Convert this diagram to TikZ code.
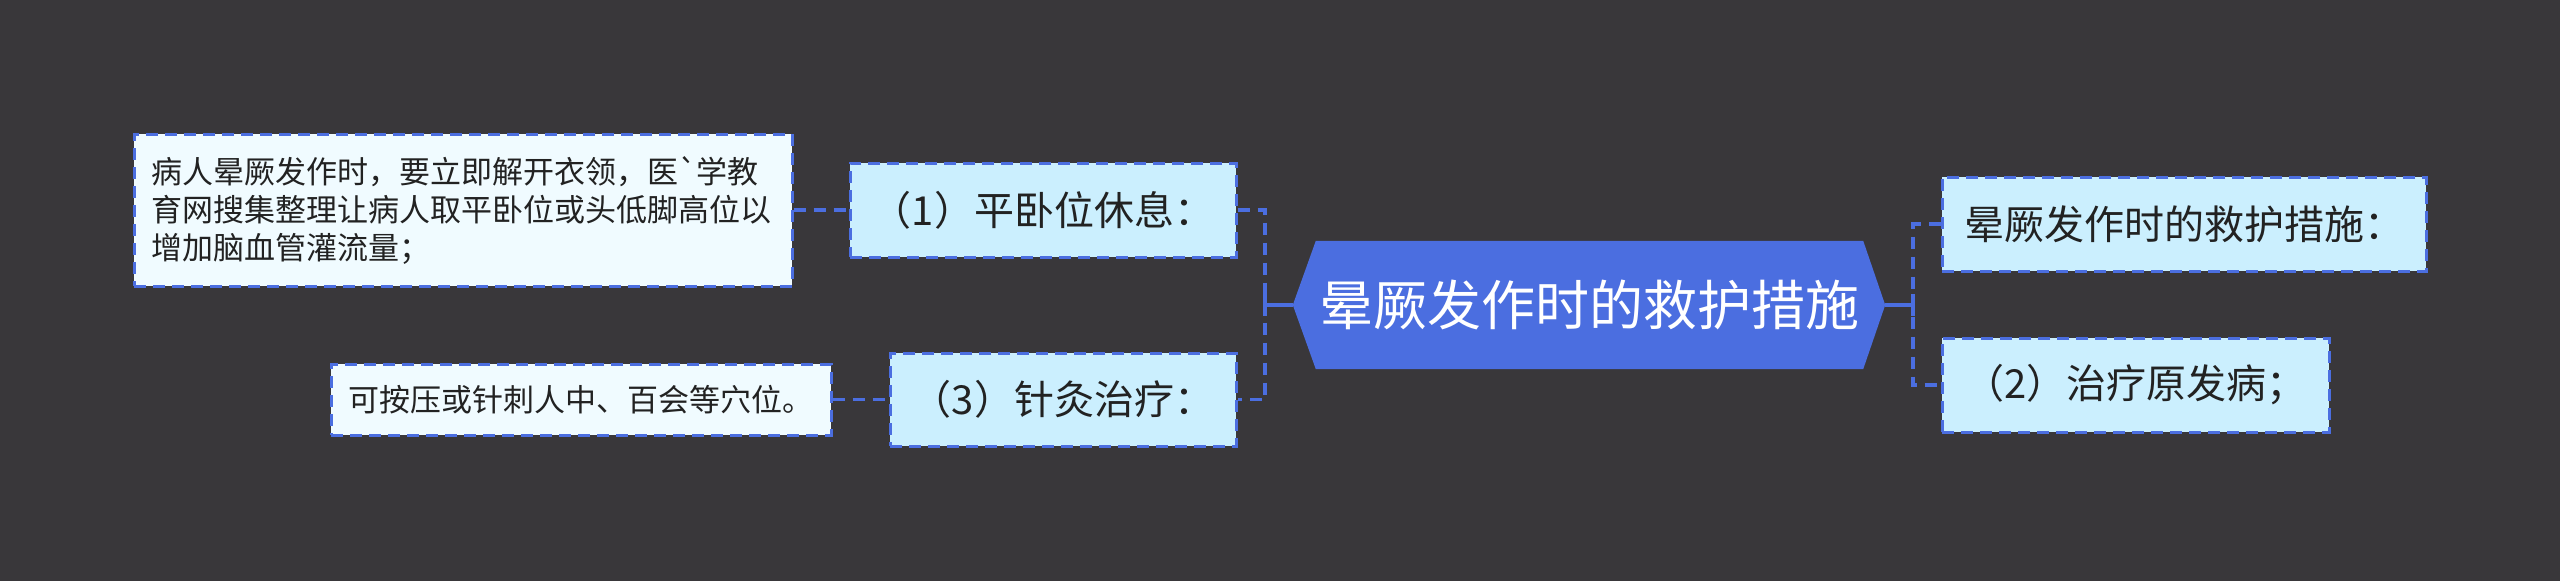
\documentclass[tikz,border=0pt]{standalone}
\usepackage{fontspec}
\newfontfamily\cjk{Noto Sans CJK SC}
\definecolor{bgc}{HTML}{39373A}
\definecolor{mainblue}{HTML}{4B6EE0}
\definecolor{boxfill}{HTML}{CBEFFE}
\definecolor{leaffill}{HTML}{F0FBFF}
\definecolor{txt}{HTML}{222222}
\tikzset{
  boxbase/.style={draw=mainblue, line width=3pt, dash pattern=on 12pt off 7pt,
    inner sep=0pt, anchor=center, text=txt, align=center},
  subbox/.style={boxbase, fill=boxfill, font=\cjk\fontsize{40}{48}\selectfont},
  leafbox/.style={boxbase, fill=leaffill, font=\cjk\fontsize{31}{38}\selectfont},
  conn/.style={draw=mainblue, line width=3.5pt, dash pattern=on 12pt off 8pt},
  solidconn/.style={draw=mainblue, line width=3.5pt},
}
\begin{document}
\begin{tikzpicture}[x=1pt,y=-1pt]
\fill[bgc] (0,0) rectangle (2560,581);
\useasboundingbox (0,0) rectangle (2560,581);

% central hexagon
\path node (c) at (1589.5,305) [minimum width=547pt, minimum height=128pt, inner sep=0pt] {};
\fill[mainblue] (c.north west) -- (c.north east) -- ([xshift=22pt]c.east) -- (c.south east)
  -- (c.south west) -- ([xshift=-23pt]c.west) -- cycle;
\node (ct) at (c) [text=white, font=\cjk\fontsize{54}{60}\selectfont, inner sep=0pt] {晕厥发作时的救护措施};

% level-1 boxes
\node (b1) at (1043,210) [subbox, minimum width=386pt, minimum height=94pt] {（1）平卧位休息：};
\node (b3) at (1063,399.5) [subbox, minimum width=346pt, minimum height=93pt] {（3）针灸治疗：};
\node (r1) at (2184,224) [subbox, minimum width=484pt, minimum height=94pt] {晕厥发作时的救护措施：};
\node (r2) at (2135.5,385) [subbox, minimum width=387pt, minimum height=94pt] {（2）治疗原发病；};

% leaves
\node (l1) at (463,210) [leafbox, minimum width=658pt, minimum height=152pt, text width=624pt, align=left]
  {病人晕厥发作时，要立即解开衣领，医\symbol{"60}学教\\育网搜集整理让病人取平卧位或头低脚高位以\\增加脑血管灌流量；};
\node (l2) at (581,399.5) [leafbox, minimum width=500pt, minimum height=71pt] {可按压或针刺人中、百会等穴位。};

% junctions
\coordinate (lj) at (1265,305);
\coordinate (rj) at (1913,305);

\draw[solidconn] ([xshift=-23pt]c.west) -- (lj);
\draw[solidconn] ([yshift=-11pt]lj) -- ([yshift=11pt]lj);
\draw[conn] (b1.east) -| (lj) |- (b3.east);

\draw[solidconn] ([xshift=22pt]c.east) -- (rj);
\draw[solidconn] ([yshift=-11pt]rj) -- ([yshift=11pt]rj);
\draw[conn] (r1.west) -| (rj) |- (r2.west);

\draw[conn] (l1.east) -- (b1.west);
\draw[conn] (l2.east) -- (b3.west);
\end{tikzpicture}
\end{document}
